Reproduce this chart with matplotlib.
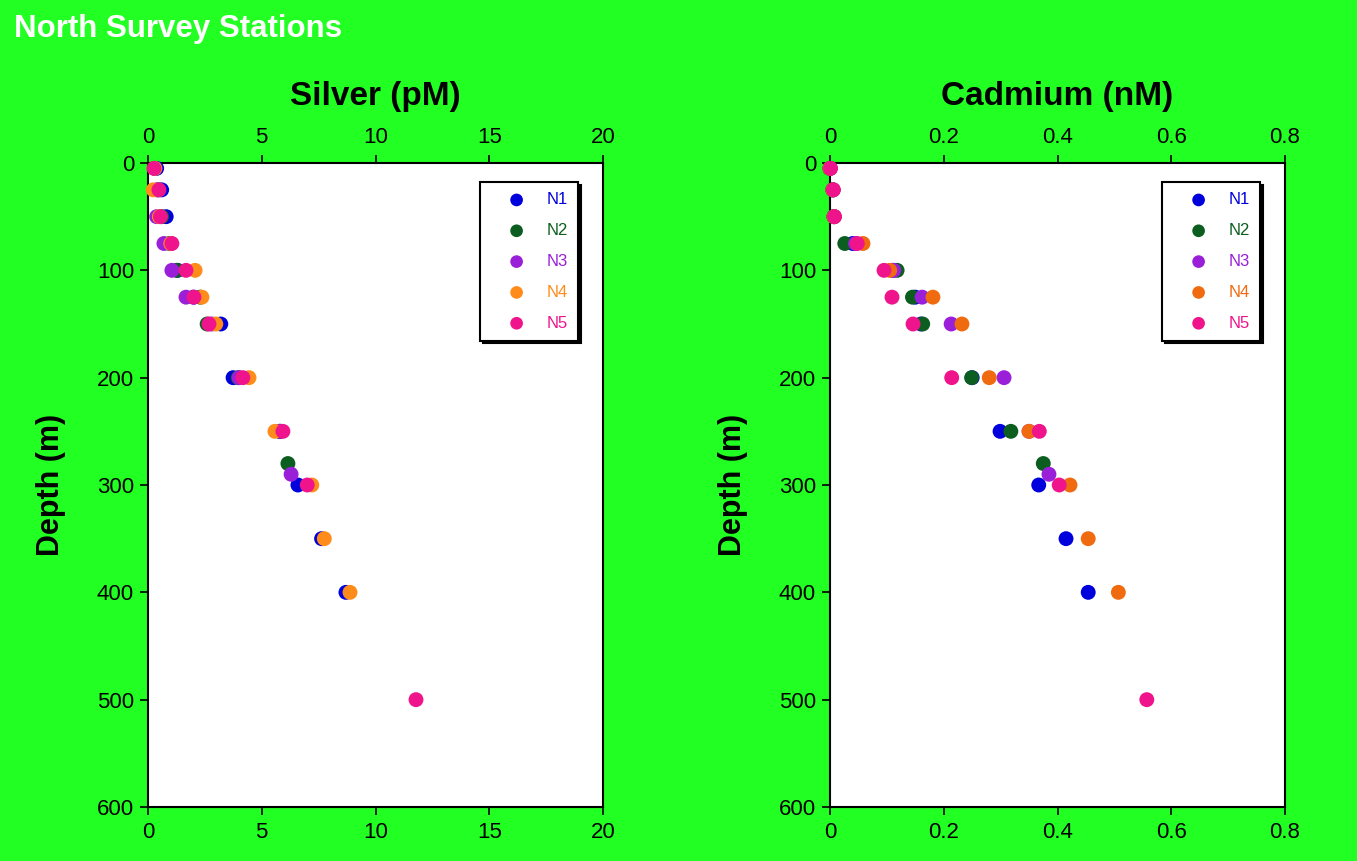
import matplotlib
matplotlib.use("Agg")
import matplotlib.pyplot as plt
import numpy as np

plt.rcParams['font.family'] = ['Liberation Sans', 'DejaVu Sans']

stations = ["N1", "N2", "N3", "N4", "N5"]

# depths (m) sampled at each station
depth_n1 = [5, 25, 50, 75, 100, 125, 150, 200, 250, 300, 350, 400]
depth_n2 = [5, 25, 50, 75, 100, 125, 150, 200, 250, 280]
depth_n3 = [5, 25, 50, 75, 100, 125, 150, 200, 250, 290]
depth_n4 = [5, 25, 50, 75, 100, 125, 150, 200, 250, 300, 350, 400]
depth_n5 = [5, 25, 50, 75, 100, 125, 150, 200, 250, 300, 500]

# silver (pM)
ag_n1 = [0.38, 0.6, 0.8, 1.0, 1.3, 2.0, 3.2, 3.74, 5.8, 6.59, 7.63, 8.7]
ag_n2 = [0.3, 0.45, 0.6, 0.95, 1.27, 2.3, 2.6, 3.96, 5.8, 6.15]
ag_n3 = [0.3, 0.4, 0.38, 0.7, 1.05, 1.67, 2.8, 4.0, 5.8, 6.29]
ag_n4 = [0.3, 0.23, 0.5, 1.0, 2.07, 2.37, 2.98, 4.44, 5.58, 7.2, 7.75, 8.88]
ag_n5 = [0.26, 0.48, 0.55, 1.05, 1.67, 2.02, 2.68, 4.17, 5.93, 7.0, 11.78]

# cadmium (nM)
cd_n1 = [0.0, 0.005, 0.007, 0.04, 0.11, 0.15, 0.16, 0.25, 0.299, 0.367, 0.415, 0.454]
cd_n2 = [0.0, 0.005, 0.007, 0.026, 0.118, 0.145, 0.163, 0.249, 0.318, 0.375]
cd_n3 = [0.0, 0.005, 0.007, 0.045, 0.112, 0.162, 0.213, 0.306, 0.35, 0.385]
cd_n4 = [0.0, 0.005, 0.007, 0.058, 0.105, 0.181, 0.232, 0.28, 0.35, 0.422, 0.454, 0.507]
cd_n5 = [0.001, 0.006, 0.008, 0.048, 0.095, 0.109, 0.146, 0.214, 0.368, 0.403, 0.557]

depths = [depth_n1, depth_n2, depth_n3, depth_n4, depth_n5]
silver = [ag_n1, ag_n2, ag_n3, ag_n4, ag_n5]
cadmium = [cd_n1, cd_n2, cd_n3, cd_n4, cd_n5]

colors_ag = ["#0000dd", "#0b5e1f", "#9a1fd8", "#ff8c1a", "#f0148c"]
colors_cd = ["#0000dd", "#0b5e1f", "#9a1fd8", "#f06a0f", "#f0148c"]

BG = "#22ff22"

fig = plt.figure(figsize=(13.57, 8.61), dpi=100)
fig.patch.set_facecolor(BG)

fig.text(14/1357, 1 - 29/861, "North Survey Stations", color="white",
         fontsize=22.5, fontweight="bold", va="center", ha="left")


def panel(rect, vals, cols, xmax, xticks, xticklabels, xlabel):
    ax = fig.add_axes(rect)
    ax.set_facecolor("white")
    for d, v, c, name in zip(depths, vals, cols, stations):
        ax.scatter(v, d, s=115, color=c, edgecolors="none", label=name, zorder=3,
                   clip_on=False)
    ax.set_xlim(0, xmax)
    ax.set_ylim(600, 0)
    ax.set_xticks(xticks)
    ax.set_xticklabels(xticklabels)
    ax.set_yticks([0, 100, 200, 300, 400, 500, 600])
    ax.tick_params(axis="x", which="both", top=True, bottom=True,
                   labeltop=True, labelbottom=True, direction="out",
                   length=6, width=1.2, labelsize=16, pad=5)
    ax.tick_params(axis="y", direction="out", length=6, width=1.2,
                   labelsize=16, pad=4)
    for sp in ax.spines.values():
        sp.set_linewidth(1.5)
        sp.set_color("black")
    ax.set_xlabel(xlabel, fontsize=24, fontweight="bold", labelpad=16)
    ax.xaxis.set_label_position("top")
    ax.set_ylabel("Depth (m)", fontsize=22, fontweight="bold", labelpad=22)
    leg = ax.legend(loc="upper right", bbox_to_anchor=(0.945, 0.970),
                    borderaxespad=0, fontsize=12, labelspacing=0.95,
                    handlelength=3.2, handletextpad=0.2, borderpad=0.6,
                    scatterpoints=1, fancybox=False, markerscale=0.85,
                    labelcolor=cols,
                    shadow={"color": "black", "alpha": 1})
    leg.get_frame().set_edgecolor("black")
    leg.get_frame().set_linewidth(1.5)
    return ax


panel([148/1357, 1 - 807/861, 455/1357, 644/861], silver, colors_ag, 20,
      [0, 5, 10, 15, 20], ["0", "5", "10", "15", "20"], "Silver (pM)")
panel([830/1357, 1 - 807/861, 455/1357, 644/861], cadmium, colors_cd, 0.8,
      [0, 0.2, 0.4, 0.6, 0.8], ["0", "0.2", "0.4", "0.6", "0.8"], "Cadmium (nM)")

fig.savefig("out.png", dpi=100, facecolor=BG)
